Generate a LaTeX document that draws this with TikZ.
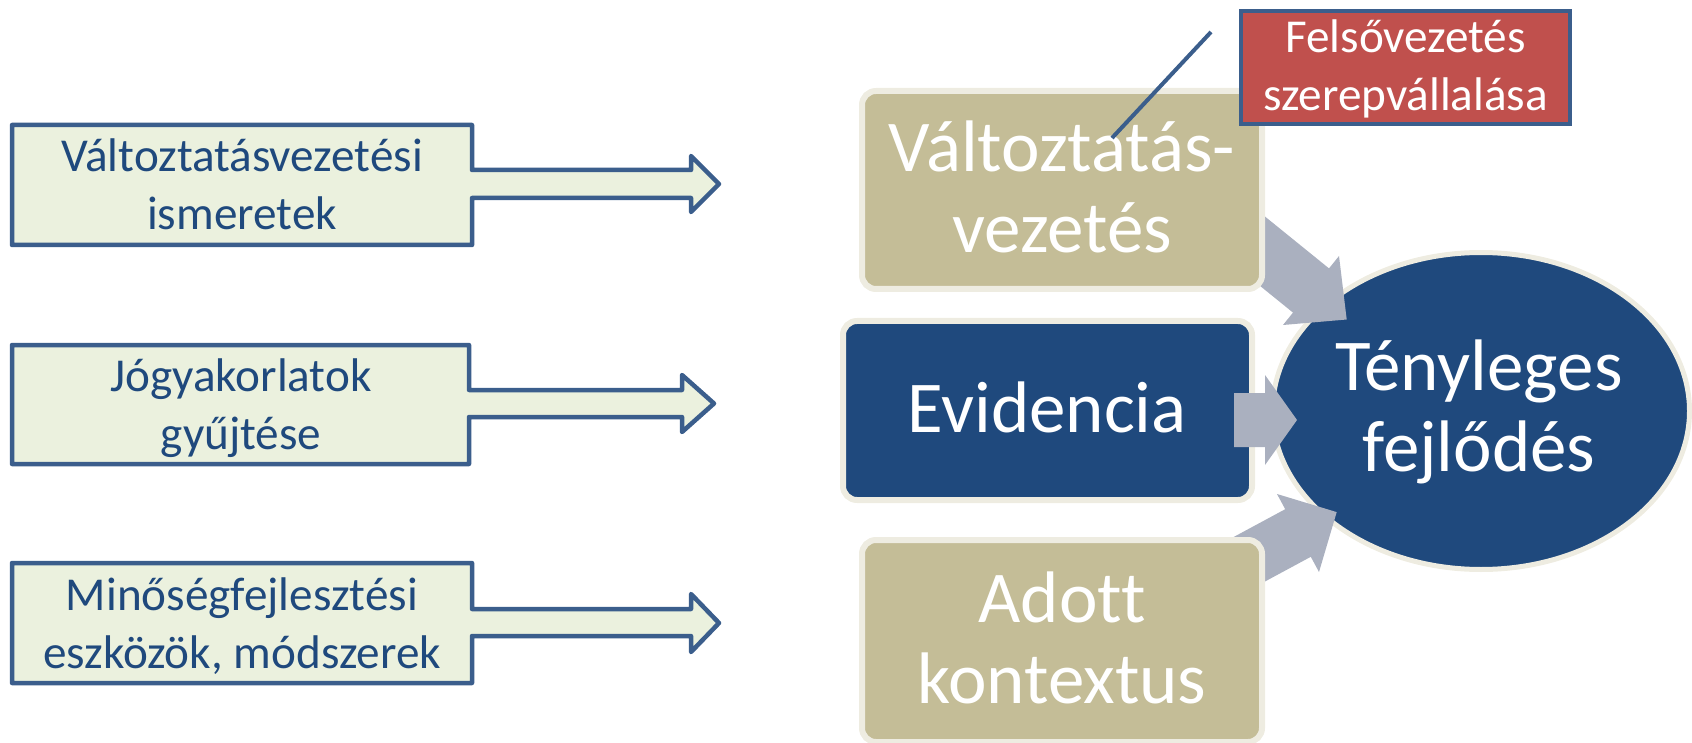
\documentclass[tikz,border=0pt]{standalone}
\usepackage{fontspec}
\setmainfont{Carlito}[Ligatures=NoCommon]
\usetikzlibrary{shapes.geometric}
\definecolor{leftfill}{HTML}{EBF1DE}
\definecolor{leftline}{HTML}{3B5E8C}
\definecolor{navy}{HTML}{1F497D}
\definecolor{tanfill}{HTML}{C4BD97}
\definecolor{rim}{HTML}{EEECE1}
\definecolor{redfill}{HTML}{C0504D}
\definecolor{arrowgray}{HTML}{AAB0BF}
\newcommand\tlines[2]{\begin{tabular}[t]{@{}c@{}}#1\\#2\end{tabular}}
\begin{document}
\begin{tikzpicture}[x=0.5pt,y=-0.5pt,
  leftbox/.style={draw=leftline, line width=2.25pt, fill=leftfill, line join=round},
  lefttext/.style={anchor=base, inner sep=0pt, text=navy, font=\fontsize{23.6}{29}\selectfont},
  bigbox/.style={rectangle, rounded corners=7pt, draw=rim, line width=3pt, inner sep=0pt},
  bigtext/.style={anchor=base, inner sep=0pt, text=white, font=\fontsize{36.5}{40.5}\selectfont},
  garrow/.style={fill=arrowgray, draw=none},
]
\useasboundingbox (0,0) rectangle (1692,743);

% left input boxes with arrows
\draw[leftbox] (12,125) -- (472,125) -- (472,170) -- (691,170) -- (691,156) -- (719,184) -- (691,212) -- (691,198) -- (472,198) -- (472,245) -- (12,245) -- cycle;
\draw[leftbox] (12,345) -- (469,345) -- (469,390) -- (682,390) -- (682,375) -- (714,403.5) -- (682,432) -- (682,417) -- (469,417) -- (469,464) -- (12,464) -- cycle;
\draw[leftbox] (12,563) -- (472,563) -- (472,609) -- (691,609) -- (691,594) -- (719,623) -- (691,652) -- (691,636) -- (472,636) -- (472,683) -- (12,683) -- cycle;
\node[lefttext] (t1) at (242,172) {\tlines{Változtatásvezetési}{ismeretek}};
\node[lefttext] (t2) at (241,391) {\tlines{Jógyakorlatok}{gyűjtése}};
\node[lefttext] (t3) at (242,610) {\tlines{Minőségfejlesztési}{eszközök, módszerek}};

% result ellipse
\node[ellipse, draw=rim, line width=2.5pt, fill=navy, minimum width=208.5pt, minimum height=158.5pt, inner sep=0pt] (res) at (1481,411) {};

% gray block arrows (behind the boxes)
\fill[garrow] (1223.0,255.9) -- (1293.0,312.6) -- (1283.0,325.0) -- (1346.7,319.5) -- (1339.0,256.0) -- (1329.0,268.4) -- (1259.0,211.7) -- cycle;
\fill[garrow] (1231.6,599.5) -- (1310.8,556.8) -- (1319.0,572.0) -- (1336.7,512.1) -- (1277.0,494.0) -- (1285.2,509.2) -- (1206.0,551.9) -- cycle;

% right boxes
\node[bigbox, fill=tanfill, minimum width=200pt, minimum height=99pt] (vv) at (1062,190) {};
\node[bigbox, fill=navy, minimum width=204.5pt, minimum height=89.5pt] (ev) at (1047.5,410.5) {};
\node[bigbox, fill=tanfill, minimum width=200pt, minimum height=101pt] (ak) at (1062,641) {};

% middle gray arrow (on top)
\fill[garrow] (1234,393) -- (1265,393) -- (1265,375) -- (1297,420) -- (1265,465) -- (1265,447) -- (1234,447) -- cycle;

% texts
\node[bigtext] (vvt) at (1062,172) {\tlines{Változtatás-}{vezetés}};
\node[bigtext] (evt) at (1047,432) {Evidencia};
\node[bigtext] (rest) at (1479,390) {\tlines{Tényleges}{fejlődés}};
\node[bigtext] (akt) at (1062,622) {\tlines{Adott}{kontextus}};

% top management box and callout
\node[rectangle, draw=leftline, line width=2pt, fill=redfill, minimum width=164.5pt, minimum height=56.5pt, inner sep=0pt] (fv) at (1405.5,67.5) {};
\node[lefttext, text=white] (fvt) at (1405.5,53) {\tlines{Felsővezetés}{szerepvállalása}};
\coordinate (callA) at (1211,32);
\coordinate (callB) at (1112,138);
\draw[leftline, line width=2pt] (callA) -- (callB);
\end{tikzpicture}
\end{document}
